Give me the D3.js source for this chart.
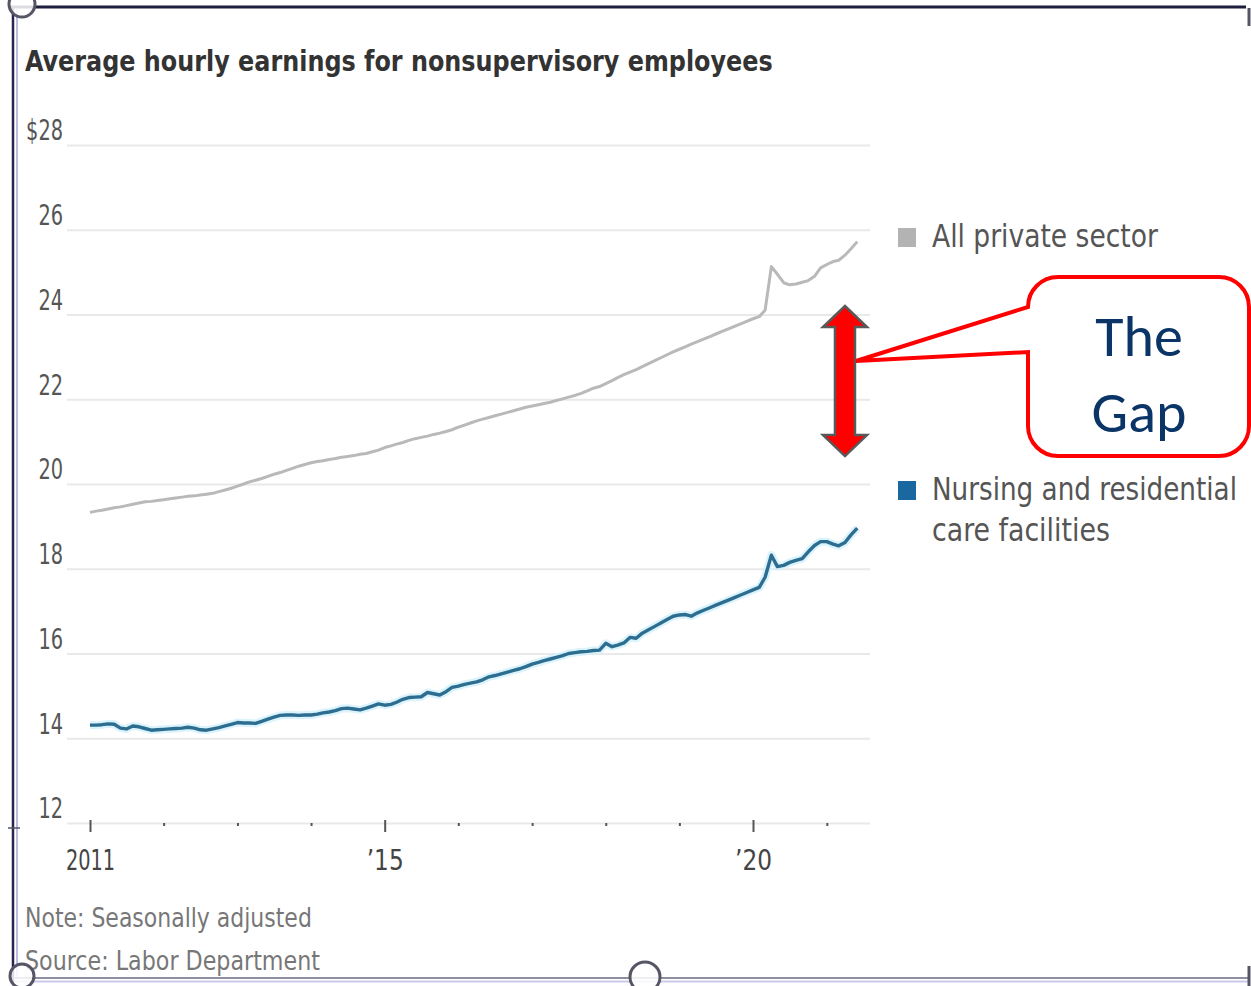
<!DOCTYPE html>
<html>
<head>
<meta charset="utf-8">
<script src="https://cdn.jsdelivr.net/npm/d3@7"></script>
<style>
  html, body { margin: 0; padding: 0; background: #ffffff; }
  svg { display: block; }
  .cond { font-family: "DejaVu Sans Condensed", "Liberation Sans Narrow", "Roboto Condensed", "DejaVu Sans", sans-serif; }
</style>
</head>
<body>
<svg id="chart" width="1251" height="986"></svg>
<script>
// Monthly series, January 2011 through June 2021 (dollars per hour)
const firstMonth = [2011, 0];

const allPrivate = [
  19.33, 19.36, 19.38, 19.41, 19.44, 19.46, 19.49, 19.52, 19.55, 19.58, 19.59, 19.61,
  19.63, 19.65, 19.67, 19.69, 19.71, 19.72, 19.74, 19.76, 19.78, 19.82, 19.86, 19.90,
  19.95, 20.00, 20.05, 20.09, 20.13, 20.18, 20.23, 20.27, 20.32, 20.37, 20.42, 20.46,
  20.50, 20.53, 20.55, 20.58, 20.60, 20.63, 20.65, 20.67, 20.70, 20.72, 20.76, 20.80,
  20.86, 20.90, 20.94, 20.98, 21.03, 21.07, 21.10, 21.13, 21.17, 21.20, 21.24, 21.28,
  21.34, 21.39, 21.44, 21.49, 21.53, 21.57, 21.61, 21.65, 21.69, 21.73, 21.77, 21.81,
  21.84, 21.87, 21.90, 21.93, 21.97, 22.01, 22.05, 22.09, 22.14, 22.20, 22.26, 22.30,
  22.37, 22.44, 22.51, 22.58, 22.64, 22.70, 22.77, 22.84, 22.91, 22.98, 23.05, 23.12,
  23.18, 23.24, 23.30, 23.36, 23.42, 23.48, 23.54, 23.60, 23.66, 23.72, 23.78, 23.84,
  23.90, 23.95, 24.10, 25.13, 24.95, 24.75, 24.70, 24.72, 24.76, 24.80, 24.90, 25.10,
  25.18, 25.25, 25.28, 25.40, 25.55, 25.72
];

const nursing = [
  14.31, 14.31, 14.32, 14.34, 14.33, 14.24, 14.22, 14.29, 14.27, 14.23, 14.19, 14.20,
  14.21, 14.22, 14.23, 14.24, 14.26, 14.24, 14.20, 14.19, 14.22, 14.25, 14.29, 14.33,
  14.37, 14.36, 14.36, 14.35, 14.40, 14.45, 14.50, 14.54, 14.55, 14.55, 14.54, 14.55,
  14.55, 14.57, 14.60, 14.62, 14.65, 14.70, 14.71, 14.69, 14.67, 14.71, 14.76, 14.81,
  14.78, 14.80, 14.85, 14.92, 14.96, 14.97, 14.98, 15.08, 15.05, 15.02, 15.10, 15.20,
  15.23, 15.27, 15.30, 15.33, 15.38, 15.45, 15.48, 15.52, 15.56, 15.60, 15.64, 15.69,
  15.75, 15.79, 15.83, 15.87, 15.91, 15.95, 16.00, 16.02, 16.04, 16.05, 16.07, 16.08,
  16.24, 16.16, 16.20, 16.25, 16.38, 16.36, 16.48, 16.56, 16.64, 16.72, 16.80, 16.88,
  16.91, 16.92, 16.88, 16.96, 17.02, 17.08, 17.14, 17.20, 17.26, 17.32, 17.38, 17.44,
  17.50, 17.56, 17.80, 18.32, 18.05, 18.08, 18.15, 18.20, 18.24, 18.40, 18.55, 18.64,
  18.64, 18.58, 18.54, 18.62, 18.80, 18.96
];

const yTickValues = [12, 14, 16, 18, 20, 22, 24, 26, 28];
const yearTicks = [2011, 2012, 2013, 2014, 2015, 2016, 2017, 2018, 2019, 2020, 2021];
const yearLabels = { 2011: "2011", 2015: "\u201915", 2020: "\u201920" };
const seriesNames = ["All private sector", "Nursing and residential", "care facilities"];
const seriesColors = ["#b9b9b9", "#2c6d90"];
const legendSwatch = ["#b3b3b3", "#1b68a0"];

// Gap annotation, in data units
const gapAnnotation = { month: [2021, 3], top: 24.2, bottom: 20.66, label: ["The", "Gap"] };

const svg = d3.select("#chart");

const x = d3.scaleTime()
  .domain([new Date(2011, 0, 1), new Date(2020, 0, 1)])
  .range([90, 753]);
const y = d3.scaleLinear().domain([12, 28]).range([823, 145]);

const monthDate = i => new Date(firstMonth[0], firstMonth[1] + i, 1);

// narrow glyph width used for the condensed axis digits
const digitW = 12.3;

// Draw a text squeezed horizontally to a given width (condensed look)
function condensedText(parent, str, px, py, size, width, fill, weight) {
  const t = parent.append("text").attr("class", "cond")
    .attr("x", 0).attr("y", 0)
    .attr("font-size", size).attr("fill", fill)
    .attr("font-weight", weight || "normal")
    .text(str);
  const natural = t.node().getComputedTextLength() || width;
  t.attr("transform", `translate(${px},${py}) scale(${width / natural},1)`);
  return t;
}

// ---------- window frame ----------
const frame = svg.append("g");
frame.append("line").attr("x1", 10).attr("x2", 1246).attr("y1", 7).attr("y2", 7)
  .attr("stroke", "#1d1d3e").attr("stroke-width", 3);
frame.append("line").attr("x1", 13).attr("x2", 13).attr("y1", 6).attr("y2", 982)
  .attr("stroke", "#262650").attr("stroke-width", 2.5);
frame.append("line").attr("x1", 17).attr("x2", 17).attr("y1", 9).attr("y2", 978)
  .attr("stroke", "#bcbce2").attr("stroke-width", 2);
frame.append("line").attr("x1", 14).attr("x2", 1250).attr("y1", 978).attr("y2", 978)
  .attr("stroke", "#8e8e9c").attr("stroke-width", 2);
frame.append("line").attr("x1", 14).attr("x2", 1250).attr("y1", 981.5).attr("y2", 981.5)
  .attr("stroke", "#c9c9ea").attr("stroke-width", 2);
frame.append("line").attr("x1", 1249).attr("x2", 1249).attr("y1", 8).attr("y2", 26)
  .attr("stroke", "#555566").attr("stroke-width", 3);
frame.append("line").attr("x1", 1249).attr("x2", 1249).attr("y1", 966).attr("y2", 986)
  .attr("stroke", "#555566").attr("stroke-width", 3);
frame.append("line").attr("x1", 8).attr("x2", 20).attr("y1", 828).attr("y2", 828)
  .attr("stroke", "#555566").attr("stroke-width", 1.5);

// ---------- title ----------
condensedText(svg, "Average hourly earnings for nonsupervisory employees",
  25, 71, 29, 748, "#333", "bold");

// ---------- y grid + labels ----------
const yAxis = d3.axisLeft(y)
  .tickValues(yTickValues)
  .tickSize(-(870 - 67))
  .tickPadding(0)
  .tickFormat(d => d === 28 ? "$28" : String(d));

const gy = svg.append("g").attr("transform", "translate(67,0)").call(yAxis);
gy.select(".domain").remove();
gy.selectAll(".tick line").attr("stroke", "#e9e9e9").attr("stroke-width", 2);
gy.selectAll(".tick text")
  .attr("class", "cond")
  .attr("x", -4).attr("dy", "0.32em")
  .attr("text-anchor", "end")
  .attr("font-size", 28).attr("fill", "#555")
  .attr("textLength", function () { return this.textContent.length * digitW; })
  .attr("lengthAdjust", "spacingAndGlyphs")
  .attr("transform", "translate(0,-14)");

// ---------- x axis ----------
const xAxis = d3.axisBottom(x)
  .tickValues(yearTicks.map(yr => new Date(yr, 0, 1)))
  .tickSize(3)
  .tickPadding(0)
  .tickFormat(d => yearLabels[d.getFullYear()] || "");

const gx = svg.append("g").attr("transform", `translate(0,${y(12)})`).call(xAxis);
gx.select(".domain").remove();
gx.selectAll(".tick line")
  .attr("y1", d => yearLabels[d.getFullYear()] ? -3 : 0)
  .attr("y2", d => yearLabels[d.getFullYear()] ? 9 : 3)
  .attr("stroke", "#555").attr("stroke-width", 2);
gx.selectAll(".tick text")
  .attr("class", "cond")
  .attr("y", 47).attr("dy", 0)
  .attr("font-size", 28).attr("fill", "#444")
  .attr("textLength", function () { return this.textContent.length * digitW; })
  .attr("lengthAdjust", "spacingAndGlyphs");

// ---------- lines ----------
const line = d3.line()
  .x((d, i) => x(monthDate(i)))
  .y(d => y(d))
  .curve(d3.curveLinear);

svg.append("path").datum(nursing)
  .attr("d", line).attr("fill", "none")
  .attr("stroke", "#d2f0fb").attr("stroke-width", 8).attr("stroke-linejoin", "round")
  .attr("opacity", 0.8);

svg.append("path").datum(allPrivate)
  .attr("d", line).attr("fill", "none")
  .attr("stroke", seriesColors[0]).attr("stroke-width", 3).attr("stroke-linejoin", "round");

svg.append("path").datum(nursing)
  .attr("d", line).attr("fill", "none")
  .attr("stroke", seriesColors[1]).attr("stroke-width", 3.4).attr("stroke-linejoin", "round");

// ---------- legend ----------
const legend = svg.append("g");
legend.append("rect").attr("x", 898).attr("y", 228).attr("width", 18).attr("height", 19)
  .attr("fill", legendSwatch[0]);
condensedText(legend, seriesNames[0], 932, 247, 32, 226, "#555");
legend.append("rect").attr("x", 898).attr("y", 481).attr("width", 18).attr("height", 19)
  .attr("fill", legendSwatch[1]);
condensedText(legend, seriesNames[1], 932, 500, 32, 305, "#555");
condensedText(legend, seriesNames[2], 932, 541, 32, 178, "#555");

// ---------- notes ----------
condensedText(svg, "Note: Seasonally adjusted", 25, 927, 26, 287, "#777");
condensedText(svg, "Source: Labor Department", 25, 970, 26, 295, "#777");

// ---------- gap arrow ----------
const ax = x(new Date(gapAnnotation.month[0], gapAnnotation.month[1], 1));
const aTop = y(gapAnnotation.top);
const aBot = y(gapAnnotation.bottom);
const headH = 21, headW = 22, shaftW = 10;
const arrowPts = [
  [ax, aTop], [ax + headW, aTop + headH], [ax + shaftW, aTop + headH],
  [ax + shaftW, aBot - headH], [ax + headW, aBot - headH], [ax, aBot],
  [ax - headW, aBot - headH], [ax - shaftW, aBot - headH],
  [ax - shaftW, aTop + headH], [ax - headW, aTop + headH]
];
svg.append("polygon")
  .attr("points", arrowPts.map(p => p.join(",")).join(" "))
  .attr("fill", "#ff0000").attr("stroke", "#595959").attr("stroke-width", 2.5)
  .attr("stroke-linejoin", "miter");

// ---------- callout ----------
const box = { left: 1028, top: 277, right: 1249, bottom: 456, r: 30 };
const tip = [ax + shaftW + 1, (aTop + aBot) / 2 - 20];
const p = d3.path();
p.moveTo(box.left + box.r, box.top);
p.lineTo(box.right - box.r, box.top);
p.arcTo(box.right, box.top, box.right, box.top + box.r, box.r);
p.lineTo(box.right, box.bottom - box.r);
p.arcTo(box.right, box.bottom, box.right - box.r, box.bottom, box.r);
p.lineTo(box.left + box.r, box.bottom);
p.arcTo(box.left, box.bottom, box.left, box.bottom - box.r, box.r);
p.lineTo(box.left, 352);
p.lineTo(tip[0], tip[1]);
p.lineTo(box.left, box.top + box.r);
p.arcTo(box.left, box.top, box.left + box.r, box.top, box.r);
p.closePath();
svg.append("path").attr("d", p.toString())
  .attr("fill", "#ffffff").attr("stroke", "#ff0000").attr("stroke-width", 4)
  .attr("stroke-linejoin", "miter");

svg.selectAll(".gapLabel").data(gapAnnotation.label).join("text")
  .attr("class", "gapLabel")
  .attr("x", 1139).attr("y", (d, i) => 356 + i * 76)
  .attr("text-anchor", "middle")
  .attr("font-family", "Carlito, Lato, 'Open Sans', sans-serif")
  .attr("font-size", 58).attr("fill", "#0b3566")
  .text(d => d);

// ---------- selection handles ----------
const handles = [[22, 4, 13], [22, 976, 12], [645, 977, 15]];
svg.selectAll(".handle").data(handles).join("circle")
  .attr("class", "handle")
  .attr("cx", d => d[0]).attr("cy", d => d[1]).attr("r", d => d[2])
  .attr("fill", "#ffffff").attr("fill-opacity", 0.85)
  .attr("stroke", "#555566").attr("stroke-width", 3);
</script>
</body>
</html>
